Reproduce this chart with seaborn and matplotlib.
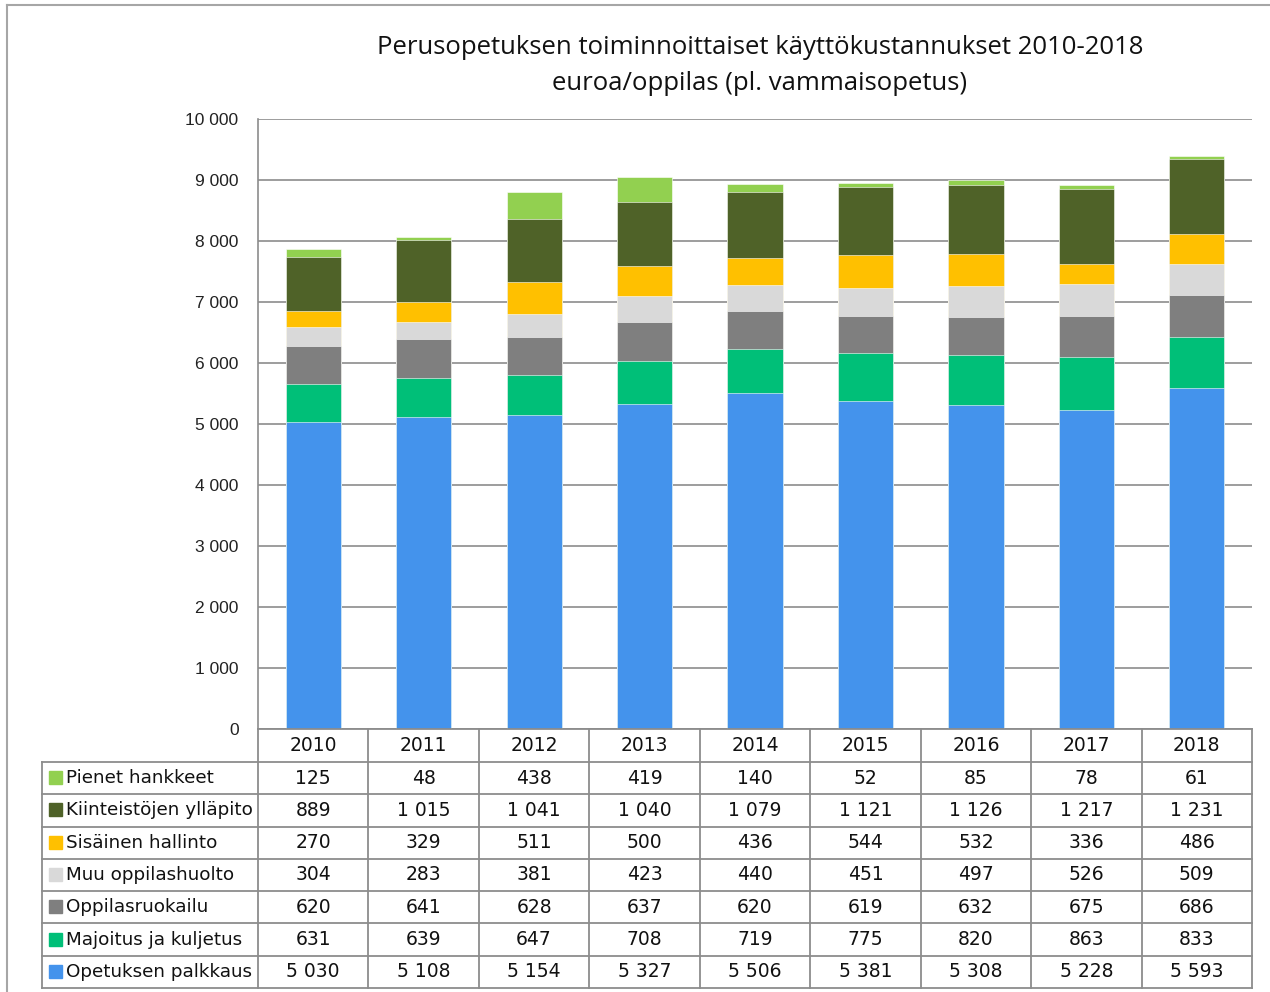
import numpy as np
import pandas as pd
import matplotlib
matplotlib.use("Agg")
import matplotlib.pyplot as plt
import seaborn as sns
from matplotlib.lines import Line2D
from matplotlib.patches import Rectangle

years = ["2010", "2011", "2012", "2013", "2014", "2015", "2016", "2017", "2018"]
series = ["Opetuksen palkkaus", "Majoitus ja kuljetus", "Oppilasruokailu",
          "Muu oppilashuolto", "Sisäinen hallinto", "Kiinteistöjen ylläpito",
          "Pienet hankkeet"]
palkkaus = [5030, 5108, 5154, 5327, 5506, 5381, 5308, 5228, 5593]
majoitus = [631, 639, 647, 708, 719, 775, 820, 863, 833]
ruokailu = [620, 641, 628, 637, 620, 619, 632, 675, 686]
muu_huolto = [304, 283, 381, 423, 440, 451, 497, 526, 509]
hallinto = [270, 329, 511, 500, 436, 544, 532, 336, 486]
kiinteistot = [889, 1015, 1041, 1040, 1079, 1121, 1126, 1217, 1231]
hankkeet = [125, 48, 438, 419, 140, 52, 85, 78, 61]
colors = ["#4493EC", "#00BF78", "#7F7F7F", "#D9D9D9", "#FFC000", "#4F6228", "#92D050"]

values = [palkkaus, majoitus, ruokailu, muu_huolto, hallinto, kiinteistot, hankkeet]

def fmt(v):
    return f"{int(v):,}".replace(",", " ")

W, H = 1270, 992
fig = plt.figure(figsize=(W / 100, H / 100), dpi=100)
left, right, top, bottom = 258, 1252, 119, 729
ax = fig.add_axes([left / W, 1 - bottom / H, (right - left) / W, (bottom - top) / H])

# stacked bars: draw cumulative totals from the top series down
cum = np.cumsum(np.array(values), axis=0)
for i in range(len(series) - 1, -1, -1):
    df = pd.DataFrame({"Vuosi": years, "Arvo": cum[i]})
    sns.barplot(data=df, x="Vuosi", y="Arvo", color=colors[i], width=0.5,
                saturation=1, ax=ax, edgecolor="white", linewidth=0.4, zorder=3)

ax.set_ylim(0, 10000)
ax.set_xlim(-0.5, 8.5)
ax.set_yticks(range(0, 10001, 1000))
ax.set_yticklabels([fmt(v) for v in range(0, 10001, 1000)],
                   family="Liberation Sans", fontsize=12.5)
ax.set_xticks([])
ax.set_xlabel("")
ax.set_ylabel("")
ax.yaxis.grid(True, color="#8C8C8C", linewidth=1.2, zorder=0)
ax.set_axisbelow(True)
for s in ["top", "right", "bottom"]:
    ax.spines[s].set_visible(False)
ax.spines["left"].set_color("#8C8C8C")
ax.spines["left"].set_linewidth(1.2)
ax.tick_params(axis="y", length=0, pad=14, colors="#222222")

# title
fig.text(760 / W, 1 - 48 / H, "Perusopetuksen toiminnoittaiset käyttökustannukset 2010-2018",
         ha="center", va="center", fontsize=18.5, family="Open Sans", color="#111111")
fig.text(760 / W, 1 - 84 / H, "euroa/oppilas (pl. vammaisopetus)",
         ha="center", va="center", fontsize=18.5, family="Open Sans", color="#111111")

# data table below the plot
lc = "#8C8C8C"
colw = (right - left) / len(years)
row0, row1, bot = 729, 762, 988
rowh = (bot - row1) / len(series)
tfont = ["DejaVu Sans"]

def hline(y, x0, x1):
    fig.add_artist(Line2D([x0 / W, x1 / W], [1 - y / H, 1 - y / H], color=lc, lw=1.3))

def vline(x, y0, y1):
    fig.add_artist(Line2D([x / W, x / W], [1 - y0 / H, 1 - y1 / H], color=lc, lw=1.3))

hline(row0, left, right)
hline(row1, 42, right)
for r in range(1, len(series) + 1):
    hline(row1 + r * rowh, 42, right)
vline(42, row1, bot)
for c in range(len(years) + 1):
    vline(left + c * colw, row0, bot)

for c, yr in enumerate(years):
    fig.text((left + (c + 0.5) * colw) / W, 1 - (row0 + row1) / 2 / H, yr,
             ha="center", va="center", fontsize=13.5, family=tfont, color="#111111")

order = list(range(len(series) - 1, -1, -1))
for r, i in enumerate(order):
    yc = row1 + (r + 0.5) * rowh
    fig.add_artist(Rectangle((49 / W, 1 - (yc + 6) / H), 13 / W, 13 / H,
                             color=colors[i], transform=fig.transFigure))
    fig.text(66 / W, 1 - yc / H, series[i], ha="left", va="center",
             fontsize=13.2, family=tfont, color="#111111")
    for c in range(len(years)):
        fig.text((left + (c + 0.5) * colw) / W, 1 - yc / H, fmt(values[i][c]),
                 ha="center", va="center", fontsize=13.5, family=tfont, color="#111111")

# outer chart border
fig.add_artist(Line2D([7 / W, 7 / W], [0, 1 - 5 / H], color="#A6A6A6", lw=1.5))
fig.add_artist(Line2D([7 / W, 1], [1 - 5 / H, 1 - 5 / H], color="#A6A6A6", lw=1.5))

fig.savefig("out.png", dpi=100)
